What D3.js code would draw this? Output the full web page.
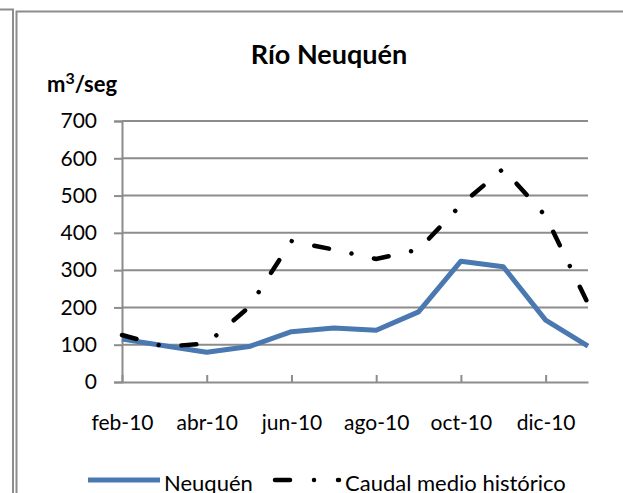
<!DOCTYPE html>
<html>
<head>
<meta charset="utf-8">
<script src="https://cdn.jsdelivr.net/npm/d3@7"></script>
<style>
  body { margin: 0; background: #fff; }
  svg { display: block; font-family: Lato, 'Open Sans', sans-serif; }
</style>
</head>
<body>
<svg id="chart" width="623" height="493"></svg>
<script>
//

const months = ['feb-10', 'mar-10', 'abr-10', 'may-10', 'jun-10', 'jul-10',
  'ago-10', 'sep-10', 'oct-10', 'nov-10', 'dic-10', 'ene-11']
const tickLabels = ['feb-10', 'abr-10', 'jun-10', 'ago-10', 'oct-10', 'dic-10']
const neuquen = [115, 97, 80, 95, 135, 145, 139, 188, 324, 309, 166, 96]
const caudalMedio = [126, 95, 103, 201, 378, 355, 330, 355, 475, 572, 445, 210]
const yTicks = [0, 100, 200, 300, 400, 500, 600, 700]

//

const svg = d3.select('#chart')
const margin = {top: 121, right: 35, bottom: 111, left: 122}
const width = 623 - margin.left - margin.right
const height = 493 - margin.top - margin.bottom
const grey = '#8c8c8c'

// frames
svg.append('path')
  .attr('d', 'M0,9.5H13V493')
  .attr('fill', 'none').attr('stroke', grey).attr('stroke-width', 2)
svg.append('rect')
  .attr('x', 16.5).attr('y', 11.5).attr('width', 620).attr('height', 500)
  .attr('fill', 'none').attr('stroke', grey).attr('stroke-width', 2)

svg.append('text')
  .attr('x', 329).attr('y', 64)
  .attr('text-anchor', 'middle')
  .attr('font-size', 27).attr('font-weight', 'bold')
  .text('Río Neuquén')

const unit = svg.append('text')
  .attr('x', 47).attr('y', 92)
  .attr('font-size', 22).attr('font-weight', 'bold')
unit.append('tspan').text('m')
unit.append('tspan').attr('font-size', 16).attr('dy', -8).text('3')
unit.append('tspan').attr('dy', 8).text('/seg')

const g = svg.append('g')
  .attr('transform', 'translate(' + margin.left + ',' + margin.top + ')')

const x = d3.scalePoint().domain(months).range([0, width])
const y = d3.scaleLinear().domain([0, 700]).range([height, 0])

// gridlines
g.append('g')
  .selectAll('line')
  .data(yTicks.slice(1))
  .enter().append('line')
  .attr('x1', 0).attr('x2', width)
  .attr('y1', d => y(d)).attr('y2', d => y(d))
  .attr('stroke', grey).attr('stroke-width', 2)

const yAxis = g.append('g')
  .call(d3.axisLeft(y).tickValues(yTicks).tickSize(8).tickPadding(17))
yAxis.select('.domain').attr('stroke', grey).attr('stroke-width', 2)
yAxis.selectAll('.tick line').attr('stroke', grey).attr('stroke-width', 2)
yAxis.selectAll('text').attr('font-size', 21).attr('font-family', 'Lato').attr('fill', '#000')

const xAxis = g.append('g')
  .attr('transform', 'translate(0,' + height + ')')
  .call(d3.axisBottom(x).tickValues(tickLabels).tickSizeInner(-7).tickSizeOuter(0).tickPadding(33))
xAxis.select('.domain').attr('stroke', grey).attr('stroke-width', 2)
xAxis.selectAll('.tick line').attr('stroke', grey).attr('stroke-width', 2)
xAxis.selectAll('text').attr('font-size', 21).attr('font-family', 'Lato').attr('fill', '#000')

const line = d3.line()
  .x((d, i) => x(months[i]))
  .y(d => y(d))

g.append('path')
  .datum(neuquen)
  .attr('d', line)
  .attr('fill', 'none')
  .attr('stroke', '#4a78b0')
  .attr('stroke-width', 5)
  .attr('stroke-linejoin', 'round')

g.append('path')
  .datum(caudalMedio)
  .attr('d', line)
  .attr('fill', 'none')
  .attr('stroke', '#000')
  .attr('stroke-width', 4.5)
  .attr('stroke-linecap', 'round')
  .attr('stroke-dasharray', '15,23,0.01,23')

// legend
const legend = svg.append('g')
legend.append('line')
  .attr('x1', 88).attr('x2', 160).attr('y1', 480).attr('y2', 480)
  .attr('stroke', '#4a78b0').attr('stroke-width', 5)
legend.append('text')
  .attr('x', 164).attr('y', 491).attr('font-size', 22)
  .text('Neuquén')
legend.append('line')
  .attr('x1', 275).attr('x2', 339).attr('y1', 480).attr('y2', 480)
  .attr('stroke', '#000').attr('stroke-width', 4.5)
  .attr('stroke-linecap', 'round')
  .attr('stroke-dasharray', '15,24,0.01,24')
legend.append('text')
  .attr('x', 345).attr('y', 491).attr('font-size', 22)
  .text('Caudal medio histórico')
</script>
</body>
</html>
